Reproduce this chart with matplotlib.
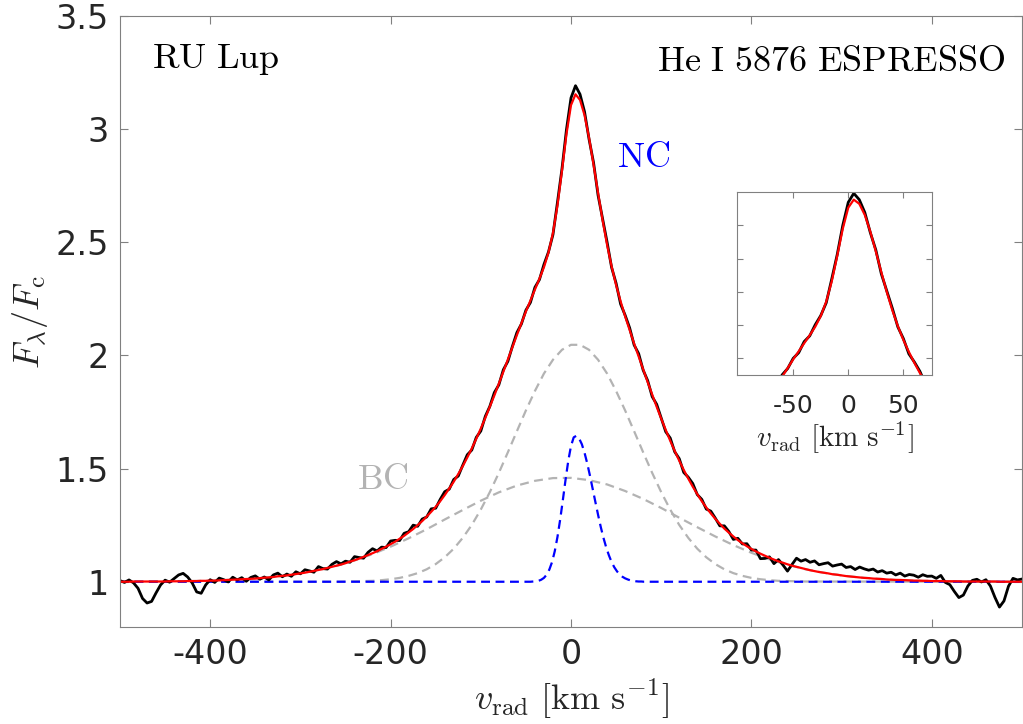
import numpy as np
import matplotlib
matplotlib.use("Agg")
import matplotlib.pyplot as plt

plt.rcParams["mathtext.fontset"] = "cm"
plt.rcParams["axes.unicode_minus"] = False
plt.rcParams["font.family"] = "DejaVu Sans"

# ---- data ----
# observed spectrum + total fit, sampled every 5 km/s from -500 to 500
vel = np.arange(-500, 505, 5)

flux_obs = [
    1.005, 0.997, 1.008, 0.995, 0.971, 0.926, 0.906, 0.913, 0.951, 0.986,
    1.007, 0.998, 1.014, 1.030, 1.037, 1.021, 0.995, 0.955, 0.949, 0.986,
    1.009, 0.997, 1.016, 1.009, 0.999, 1.020, 1.008, 1.018, 1.002, 1.019,
    1.026, 1.011, 1.021, 1.008, 1.030, 1.038, 1.022, 1.034, 1.024, 1.044,
    1.035, 1.053, 1.048, 1.042, 1.067, 1.058, 1.056, 1.077, 1.089, 1.079,
    1.091, 1.086, 1.111, 1.107, 1.104, 1.130, 1.146, 1.136, 1.153, 1.151,
    1.180, 1.183, 1.182, 1.214, 1.221, 1.250, 1.245, 1.277, 1.286, 1.322,
    1.325, 1.364, 1.398, 1.409, 1.452, 1.467, 1.515, 1.561, 1.582, 1.638,
    1.666, 1.731, 1.775, 1.836, 1.870, 1.937, 1.974, 2.040, 2.101, 2.139,
    2.200, 2.234, 2.301, 2.335, 2.402, 2.457, 2.534, 2.677, 2.825, 2.999,
    3.138, 3.192, 3.154, 3.077, 2.956, 2.852, 2.708, 2.605, 2.501, 2.389,
    2.319, 2.227, 2.178, 2.122, 2.046, 2.008, 1.935, 1.889, 1.818, 1.784,
    1.723, 1.663, 1.635, 1.574, 1.544, 1.483, 1.462, 1.434, 1.385, 1.364,
    1.321, 1.312, 1.281, 1.247, 1.247, 1.222, 1.187, 1.192, 1.167, 1.168,
    1.140, 1.140, 1.102, 1.103, 1.110, 1.080, 1.098, 1.074, 1.047, 1.076,
    1.104, 1.091, 1.098, 1.086, 1.092, 1.075, 1.080, 1.084, 1.069, 1.074,
    1.078, 1.063, 1.067, 1.054, 1.065, 1.057, 1.051, 1.056, 1.043, 1.049,
    1.038, 1.042, 1.030, 1.038, 1.025, 1.032, 1.029, 1.020, 1.031, 1.024,
    1.025, 1.015, 1.028, 0.997, 0.987, 0.957, 0.930, 0.941, 0.981, 1.006,
    1.011, 0.999, 1.009, 0.981, 0.931, 0.888, 0.915, 0.980, 1.015, 1.008,
    1.012,
]

flux_fit = [
    1.000, 1.000, 1.000, 1.001, 1.001, 1.001, 1.001, 1.001, 1.001, 1.001,
    1.001, 1.002, 1.002, 1.002, 1.002, 1.003, 1.003, 1.003, 1.004, 1.004,
    1.005, 1.005, 1.006, 1.007, 1.008, 1.009, 1.010, 1.011, 1.012, 1.013,
    1.014, 1.016, 1.018, 1.019, 1.021, 1.024, 1.026, 1.028, 1.031, 1.034,
    1.037, 1.040, 1.044, 1.048, 1.052, 1.056, 1.061, 1.066, 1.071, 1.076,
    1.082, 1.089, 1.095, 1.102, 1.110, 1.118, 1.126, 1.135, 1.145, 1.155,
    1.166, 1.177, 1.190, 1.203, 1.218, 1.233, 1.250, 1.268, 1.288, 1.309,
    1.331, 1.356, 1.383, 1.412, 1.442, 1.476, 1.511, 1.549, 1.589, 1.632,
    1.677, 1.724, 1.773, 1.823, 1.875, 1.928, 1.982, 2.036, 2.090, 2.142,
    2.194, 2.243, 2.291, 2.339, 2.390, 2.454, 2.541, 2.663, 2.817, 2.979,
    3.106, 3.154, 3.129, 3.062, 2.962, 2.843, 2.718, 2.598, 2.489, 2.394,
    2.311, 2.239, 2.173, 2.112, 2.052, 1.995, 1.938, 1.882, 1.827, 1.773,
    1.721, 1.671, 1.623, 1.578, 1.535, 1.494, 1.456, 1.420, 1.387, 1.356,
    1.328, 1.302, 1.278, 1.256, 1.235, 1.217, 1.200, 1.184, 1.170, 1.157,
    1.145, 1.134, 1.124, 1.115, 1.106, 1.098, 1.090, 1.084, 1.077, 1.071,
    1.066, 1.061, 1.056, 1.051, 1.047, 1.043, 1.040, 1.037, 1.033, 1.031,
    1.028, 1.025, 1.023, 1.021, 1.019, 1.017, 1.016, 1.014, 1.013, 1.012,
    1.010, 1.009, 1.008, 1.008, 1.007, 1.006, 1.005, 1.005, 1.004, 1.004,
    1.003, 1.003, 1.003, 1.002, 1.002, 1.002, 1.002, 1.001, 1.001, 1.001,
    1.001, 1.001, 1.001, 1.001, 1.001, 1.000, 1.000, 1.000, 1.000, 1.000,
    1.000,
]

# broad component 1 (narrower grey dashed), every 10 km/s
vel_bc1 = np.concatenate([[-500], np.arange(-260, 270, 10), [500]])
flux_bc1 = [
    1.000,
    1.000, 1.001, 1.002, 1.003, 1.004, 1.007, 1.011, 1.017, 1.026, 1.038,
    1.055, 1.078, 1.108, 1.146, 1.194, 1.251, 1.319, 1.396, 1.481, 1.572,
    1.665, 1.757, 1.843, 1.920, 1.981, 2.025, 2.047, 2.047, 2.025, 1.981,
    1.920, 1.843, 1.757, 1.665, 1.572, 1.481, 1.396, 1.319, 1.251, 1.194,
    1.146, 1.108, 1.078, 1.055, 1.038, 1.026, 1.017, 1.011, 1.007, 1.004,
    1.003, 1.002, 1.001,
    1.000,
]

# broad component 2 (wide grey dashed), every 20 km/s
vel_bc2 = np.arange(-500, 520, 20)
flux_bc2 = [
    1.000, 1.001, 1.001, 1.002, 1.003, 1.005, 1.008, 1.012, 1.018, 1.026,
    1.037, 1.052, 1.070, 1.094, 1.122, 1.155, 1.192, 1.232, 1.275, 1.317,
    1.358, 1.395, 1.425, 1.446, 1.458, 1.459, 1.449, 1.430, 1.401, 1.366,
    1.326, 1.283, 1.241, 1.200, 1.162, 1.128, 1.099, 1.075, 1.055, 1.040,
    1.028, 1.019, 1.013, 1.008, 1.005, 1.003, 1.002, 1.001, 1.001, 1.000,
    1.000,
]

# narrow component (blue dashed), every 3 km/s around the core
vel_nc = np.concatenate([[-500], np.arange(-60, 93, 3), [500]])
flux_nc = [
    1.000,
    1.000, 1.000, 1.000, 1.000, 1.000, 1.000, 1.001, 1.002, 1.004, 1.009,
    1.017, 1.031, 1.054, 1.087, 1.135, 1.198, 1.275, 1.362, 1.452, 1.535,
    1.600, 1.638, 1.645, 1.633, 1.608, 1.570, 1.523, 1.469, 1.411, 1.353,
    1.296, 1.242, 1.194, 1.152, 1.117, 1.087, 1.064, 1.046, 1.032, 1.022,
    1.015, 1.010, 1.006, 1.004, 1.002, 1.001, 1.001, 1.000, 1.000, 1.000,
    1.000,
    1.000,
]

AX_GRAY = "#808080"
TXT = "#262626"
BC_GRAY = "#b3b3b3"
dash = (0, (4, 2.5))
vlabel = r"$v_{\rm rad}\ [\rm km\ s^{-1}]$"

fig = plt.figure(figsize=(10.23, 7.24), dpi=100)

# ---- main panel ----
ax = fig.add_axes([120 / 1023, 1 - 627 / 724, 902 / 1023, (627 - 16) / 724])
ax.plot(vel_bc1, flux_bc1, color=BC_GRAY, lw=1.6, ls=dash)
ax.plot(vel_bc2, flux_bc2, color=BC_GRAY, lw=1.6, ls=dash)
ax.plot(vel_nc, flux_nc, color="blue", lw=1.6, ls=dash)
ax.plot(vel, flux_obs, color="k", lw=2.0)
ax.plot(vel, flux_fit, color="red", lw=1.6)

ax.set_xlim(-500, 500)
ax.set_ylim(0.8, 3.5)
ax.set_xticks([-400, -200, 0, 200, 400])
ax.set_yticks([1, 1.5, 2, 2.5, 3, 3.5])
ax.set_yticklabels(["1", "1.5", "2", "2.5", "3", "3.5"])
ax.tick_params(direction="in", length=6, width=0.8, color=AX_GRAY, labelcolor=TXT,
               labelsize=24, top=True, right=True, pad=8)
for s in ax.spines.values():
    s.set_color(AX_GRAY)
    s.set_linewidth(0.8)
ax.set_xlabel(vlabel, fontsize=26, color=TXT)
ax.set_ylabel(r"$F_\lambda/F_{\rm c}$", fontsize=26, color=TXT)

ax.text(-465, 3.27, r"$\mathrm{RU\ Lup}$", fontsize=26, va="baseline")
ax.text(482, 3.258, r"$\mathrm{He\ I\ 5876\ ESPRESSO}$", fontsize=26,
        ha="right", va="baseline")
ax.text(51, 2.833, r"$\mathrm{NC}$", fontsize=26, color="blue", va="baseline")
ax.text(-237, 1.41, r"$\mathrm{BC}$", fontsize=26, color=BC_GRAY, va="baseline")

# ---- inset: zoom on the line core ----
axi = fig.add_axes([737 / 1023, 1 - 375 / 724, 195 / 1023, 183 / 724])
axi.plot(vel, flux_obs, color="k", lw=2.0)
axi.plot(vel, flux_fit, color="red", lw=1.6)
axi.set_xlim(-101, 76)
axi.set_ylim(2.1, 3.2)
axi.set_xticks([-50, 0, 50])
axi.set_yticks([2.2, 2.4, 2.6, 2.8, 3.0])
axi.set_yticklabels([])
axi.tick_params(direction="in", length=4, width=0.8, color=AX_GRAY, labelcolor=TXT,
                labelsize=18, top=True, right=True, pad=14)
for s in axi.spines.values():
    s.set_color(AX_GRAY)
    s.set_linewidth(0.8)
axi.set_xlabel(vlabel, fontsize=21, color=TXT, labelpad=1)

fig.savefig("out.png", dpi=100)
